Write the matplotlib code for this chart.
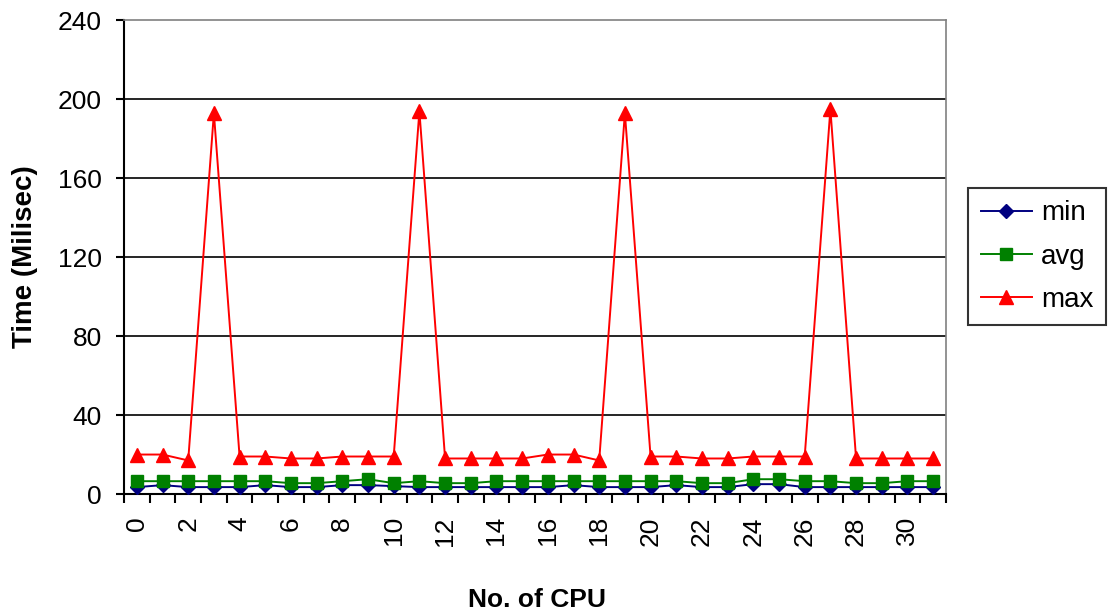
import matplotlib
matplotlib.use("Agg")
import matplotlib.pyplot as plt
import numpy as np

plt.rcParams['font.family'] = ['Liberation Sans', 'DejaVu Sans']

cpus = list(range(32))
min_ms = [3.5, 4.5, 3.5, 3.5, 3.5, 4.5, 3.5, 3.5, 4.5, 4.5, 4.0, 3.5, 3.5, 3.5, 3.5, 3.5,
          3.5, 4.5, 3.5, 3.5, 3.5, 4.5, 3.5, 3.5, 5.0, 5.0, 3.5, 3.5, 3.5, 3.5, 3.5, 3.5]
avg_ms = [6.5, 6.5, 6.5, 6.5, 6.5, 6.5, 5.5, 5.5, 6.5, 7.5, 5.5, 6.5, 5.5, 5.5, 6.5, 6.5,
          6.5, 6.5, 6.5, 6.5, 6.5, 6.5, 5.5, 5.5, 7.5, 7.5, 6.5, 6.5, 5.5, 5.5, 6.5, 6.5]
max_ms = [20, 20, 17, 193, 19, 19, 18, 18, 19, 19, 19, 194, 18, 18, 18, 18,
          20, 20, 17, 193, 19, 19, 18, 18, 19, 19, 19, 195, 18, 18, 18, 18]

y_ticks = [0, 40, 80, 120, 160, 200, 240]
x_labels = [str(c) for c in cpus if c % 2 == 0]

fig = plt.figure(figsize=(11.12, 6.13), dpi=100)
ax = fig.add_axes([0.1115, 0.1941, 0.7392, 0.7728])

x = np.arange(len(cpus))
ax.plot(x, min_ms, color='#000080', marker='D', markersize=7, linewidth=1.4, label='min', zorder=3)
ax.plot(x, avg_ms, color='#008000', marker='s', markersize=8, linewidth=1.4, label='avg', zorder=3)
ax.plot(x, max_ms, color='#FF0000', marker='^', markersize=10, linewidth=1.4, label='max', zorder=3)

ax.set_xlim(-0.5, len(cpus) - 0.5)
ax.set_ylim(0, 240)

# category boundaries carry the tick marks; labels sit at the even categories
ax.set_xticks(np.arange(-0.5, len(cpus), 1.0))
ax.set_xticklabels([])
ax.set_xticks([c for c in cpus if c % 2 == 0], minor=True)
ax.set_xticklabels(x_labels, minor=True, rotation=90, fontsize=19)
ax.tick_params(axis='x', which='major', length=6.5, width=1.5, direction='out', color='black')
ax.tick_params(axis='x', which='minor', length=0, pad=16)

ax.set_yticks(y_ticks)
ax.set_yticklabels([str(v) for v in y_ticks], fontsize=19)
ax.tick_params(axis='y', length=6, width=1.5, direction='out', color='black', pad=10)

for v in y_ticks[1:-1]:
    ax.axhline(v, color='black', linewidth=1.2, zorder=1)

ax.spines['left'].set_color('black')
ax.spines['left'].set_linewidth(1.5)
ax.spines['bottom'].set_color('black')
ax.spines['bottom'].set_linewidth(1.5)
ax.spines['top'].set_color('#808080')
ax.spines['top'].set_linewidth(1.2)
ax.spines['right'].set_color('#808080')
ax.spines['right'].set_linewidth(1.2)

fig.text(25 / 1112, 1 - 257 / 613, 'Time (Milisec)', fontsize=20, fontweight='bold',
         rotation=90, ha='center', va='center')
fig.text(537 / 1112, 1 - 607 / 613, 'No. of CPU', fontsize=19, fontweight='bold',
         ha='center', va='baseline')

leg = fig.legend(loc='upper left', bbox_to_anchor=(968 / 1112, 1 - 188 / 613),
                 fontsize=20, frameon=True, fancybox=False, shadow=False,
                 handlelength=1.85, borderpad=0.45, labelspacing=0.62, handletextpad=0.33,
                 borderaxespad=0)
leg.get_frame().set_edgecolor('black')
leg.get_frame().set_linewidth(1.5)

fig.savefig('out.png', dpi=100)
